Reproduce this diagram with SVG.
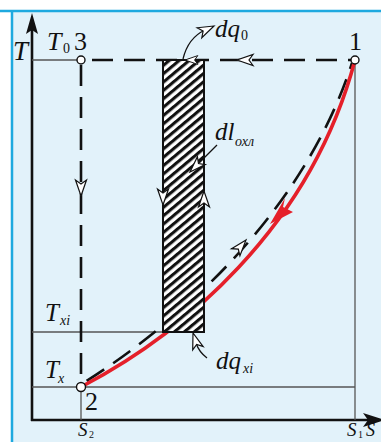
<svg xmlns="http://www.w3.org/2000/svg" width="381" height="442" viewBox="0 0 381 442">
<style>
.thin{stroke:#555;stroke-width:1.3;fill:none}
.axis{stroke:#111;stroke-width:2.6;fill:none}
.dash{stroke:#111;stroke-width:2.6;fill:none;stroke-dasharray:21 11}
.red{stroke:#E5202A;stroke-width:3.6;fill:none}
.oa{fill:#fff;stroke:#111;stroke-width:1.2;stroke-linejoin:miter}
.pt{fill:#fff;stroke:#111;stroke-width:1.4}
.it{font-family:"Liberation Serif",serif;font-style:italic;fill:#111}
.up{font-family:"Liberation Serif",serif;fill:#111}
</style>
<defs>
<pattern id="hatch" patternUnits="userSpaceOnUse" width="6.4" height="12" patternTransform="rotate(50)">
<rect width="6.4" height="12" fill="#fff"/>
<rect width="3.1" height="12" fill="#111"/>
</pattern>
<path id="oarr" d="M0,0 L-16,-5.5 L-12,0 L-16,5.5 Z"/>
</defs>
<rect width="381" height="442" fill="#fff"/>
<rect x="12" y="11" width="369" height="431" fill="#E2F2FA"/>
<line x1="0" y1="11" x2="381" y2="11" stroke="#1EA9DF" stroke-width="2.5"/>
<line x1="12" y1="11" x2="12" y2="442" stroke="#1EA9DF" stroke-width="2.5"/>

<g id="axes">
<line class="axis" x1="32" y1="421" x2="32" y2="28"/>
<path d="M32,13 L38,34 L32,30 L26,34 Z" fill="#111"/>
<line class="axis" x1="31" y1="420" x2="368" y2="420"/>
<path d="M385,420 L363,413 L368,420 L363,427 Z" fill="#111"/>
</g>

<g id="connectors">
<line class="thin" x1="32" y1="60" x2="77" y2="60"/>
<line class="thin" x1="32" y1="332" x2="163" y2="332"/>
<line class="thin" x1="32" y1="387" x2="355" y2="387"/>
<line class="thin" x1="81" y1="387" x2="81" y2="420"/>
<line class="thin" x1="355" y1="60" x2="355" y2="420"/>
<line class="dash" x1="92" y1="60" x2="351" y2="60"/>
<line class="dash" x1="81" y1="65" x2="81" y2="383"/>
<path class="dash" d="M85,382 C172,327 302,218 352,63" stroke-dashoffset="-2"/>
<path class="red" d="M81,387 C180,335 310,230 355,60"/>
<path d="M270,224 L285,198 L283,207 L293,212 Z" fill="#E5202A"/>
<use href="#oarr" class="oa" transform="translate(237,60) rotate(180)"/>
<use href="#oarr" class="oa" transform="translate(81,196) rotate(90)"/>
<use href="#oarr" class="oa" transform="translate(246,240) rotate(-50)"/>
</g>

<g id="rect-dq">
<rect x="163" y="60" width="41" height="272" fill="url(#hatch)" stroke="#111" stroke-width="2"/>
<use href="#oarr" class="oa" transform="translate(185,60) rotate(180) scale(0.8)"/>
<use href="#oarr" class="oa" transform="translate(163,205) rotate(90)"/>
<use href="#oarr" class="oa" transform="translate(204,191) rotate(-90)"/>
</g>

<g id="label-dq0">
<path d="M183,59 Q188,38 205,30" stroke="#111" stroke-width="1.3" fill="none"/>
<use href="#oarr" class="oa" transform="translate(214,26) rotate(-25)"/>
<text class="it" x="215" y="37" font-size="25">dq</text>
<text class="up" x="241" y="40" font-size="14">0</text>
</g>

<g id="label-dl">
<line x1="217" y1="145" x2="197" y2="165" stroke="#111" stroke-width="1.3"/>
<use href="#oarr" class="oa" transform="translate(190,172) rotate(135)"/>
<text class="it" x="215" y="140" font-size="25">dl</text>
<text class="it" x="235" y="146" font-size="14">охл</text>
</g>

<g id="label-dqxi">
<path d="M207,358 Q199,352 196,343" stroke="#111" stroke-width="1.3" fill="none"/>
<use href="#oarr" class="oa" transform="translate(193,333) rotate(-108)"/>
<text class="it" x="216" y="369" font-size="25">dq</text>
<text class="it" x="243" y="373" font-size="14">xi</text>
</g>

<g id="node-3">
<circle class="pt" cx="81" cy="60" r="4"/>
<text class="up" x="74" y="50" font-size="26">3</text>
</g>
<g id="node-1">
<circle class="pt" cx="355" cy="60" r="4"/>
<text class="up" x="349" y="50" font-size="26">1</text>
</g>
<g id="node-2">
<circle class="pt" cx="81" cy="387" r="4.5"/>
<text class="up" x="85" y="410" font-size="26">2</text>
</g>

<g id="labels">
<text class="it" x="13" y="60" font-size="27">T</text>
<text class="it" x="47" y="50" font-size="26">T</text>
<text class="up" x="63" y="53" font-size="14">0</text>
<text class="it" x="45" y="321" font-size="25">T</text>
<text class="it" x="60" y="325" font-size="14">xi</text>
<text class="it" x="45" y="378" font-size="25">T</text>
<text class="it" x="58" y="383" font-size="14">x</text>
<text class="it" x="78" y="436" font-size="19">S</text>
<text class="up" x="89" y="438" font-size="10">2</text>
<text class="it" x="347" y="436" font-size="19">S</text>
<text class="up" x="358" y="438" font-size="10">1</text>
<text class="it" x="366" y="436" font-size="18">S</text>
</g>
</svg>
